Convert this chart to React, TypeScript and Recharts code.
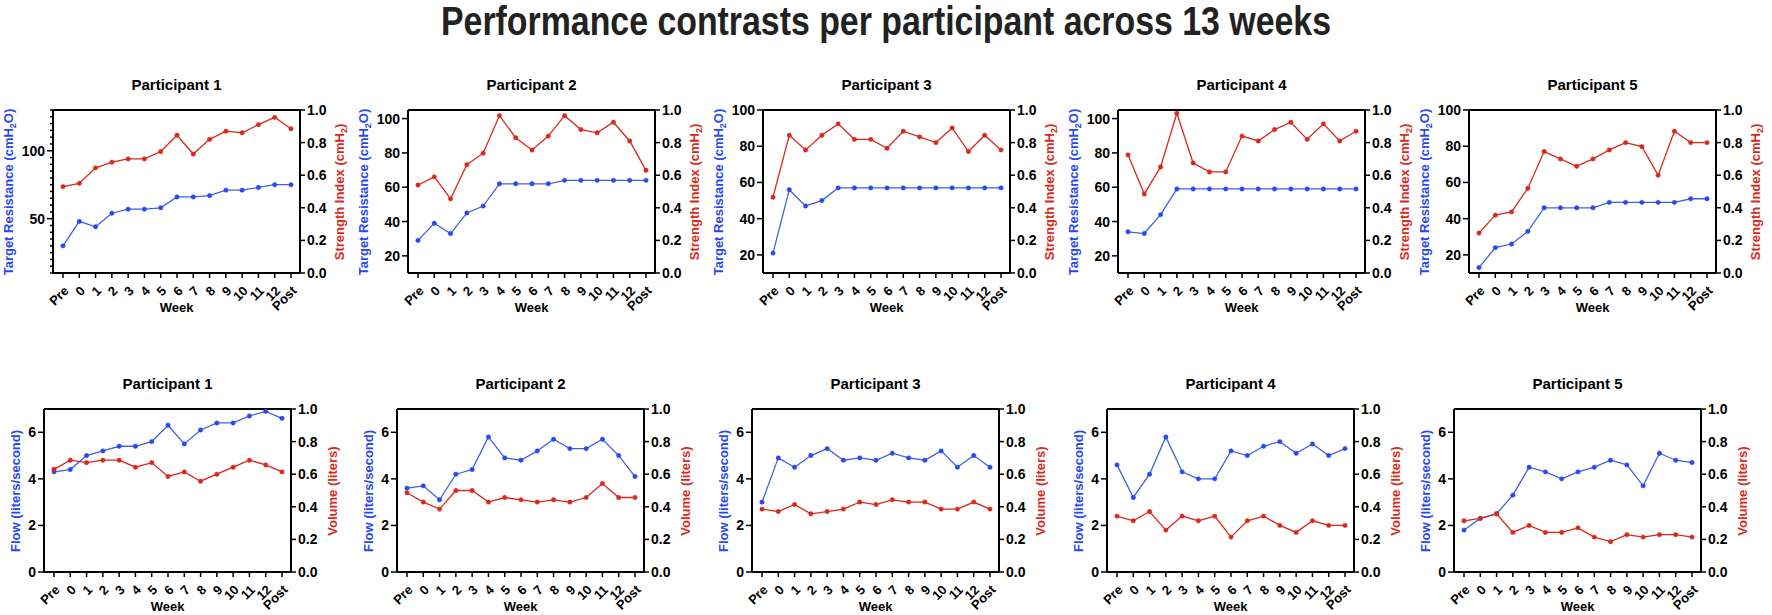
import React from 'react';
import { LineChart, Line, XAxis, YAxis, ReferenceLine } from 'recharts';

const weeks = ['Pre', '0', '1', '2', '3', '4', '5', '6', '7', '8', '9', '10', '11', '12', 'Post'];

// top row: target resistance (cmH2O) and strength index
const p1Resistance = [30, 48, 44, 54, 57, 57, 58, 66, 66, 67, 71, 71, 73, 75, 75];
const p1Strength = [0.53, 0.55, 0.645, 0.68, 0.7, 0.7, 0.745, 0.845, 0.73, 0.82, 0.87, 0.86, 0.91, 0.955, 0.885];
const p2Resistance = [29, 39, 33, 45, 49, 62, 62, 62, 62, 64, 64, 64, 64, 64, 64];
const p2Strength = [0.54, 0.59, 0.455, 0.665, 0.735, 0.965, 0.83, 0.755, 0.84, 0.965, 0.88, 0.86, 0.925, 0.81, 0.63];
const p3Resistance = [21, 56, 47, 50, 57, 57, 57, 57, 57, 57, 57, 57, 57, 57, 57];
const p3Strength = [0.465, 0.845, 0.755, 0.845, 0.915, 0.82, 0.82, 0.765, 0.87, 0.835, 0.8, 0.89, 0.745, 0.845, 0.755];
const p4Resistance = [34, 33, 44, 59, 59, 59, 59, 59, 59, 59, 59, 59, 59, 59, 59];
const p4Strength = [0.725, 0.485, 0.65, 0.98, 0.675, 0.62, 0.62, 0.84, 0.81, 0.88, 0.925, 0.82, 0.915, 0.81, 0.87];
const p5Resistance = [13, 24, 26, 33, 46, 46, 46, 46, 49, 49, 49, 49, 49, 51, 51];
const p5Strength = [0.245, 0.355, 0.375, 0.52, 0.745, 0.7, 0.655, 0.7, 0.755, 0.8, 0.775, 0.6, 0.87, 0.8, 0.8];

// bottom row: flow (l/s) and volume (l)
const p1Flow = [4.3, 4.4, 5.0, 5.2, 5.4, 5.4, 5.6, 6.3, 5.5, 6.1, 6.4, 6.4, 6.7, 6.9, 6.6];
const p1Volume = [0.63, 0.686, 0.671, 0.686, 0.686, 0.643, 0.671, 0.586, 0.614, 0.557, 0.6, 0.643, 0.686, 0.657, 0.614];
const p2Flow = [3.6, 3.7, 3.1, 4.2, 4.4, 5.8, 4.9, 4.8, 5.2, 5.7, 5.3, 5.3, 5.7, 5.0, 4.1];
const p2Volume = [0.486, 0.429, 0.386, 0.5, 0.5, 0.429, 0.457, 0.443, 0.429, 0.443, 0.429, 0.457, 0.543, 0.457, 0.457];
const p3Flow = [3.0, 4.9, 4.5, 5.0, 5.3, 4.8, 4.9, 4.8, 5.1, 4.9, 4.8, 5.2, 4.5, 5.0, 4.5];
const p3Volume = [0.386, 0.371, 0.414, 0.357, 0.371, 0.386, 0.429, 0.414, 0.443, 0.429, 0.429, 0.386, 0.386, 0.429, 0.386];
const p4Flow = [4.6, 3.2, 4.2, 5.8, 4.3, 4.0, 4.0, 5.2, 5.0, 5.4, 5.6, 5.1, 5.5, 5.0, 5.3];
const p4Volume = [0.343, 0.314, 0.371, 0.257, 0.343, 0.314, 0.343, 0.214, 0.314, 0.343, 0.286, 0.243, 0.314, 0.286, 0.286];
const p5Flow = [1.8, 2.3, 2.5, 3.3, 4.5, 4.3, 4.0, 4.3, 4.5, 4.8, 4.6, 3.7, 5.1, 4.8, 4.7];
const p5Volume = [0.314, 0.329, 0.357, 0.243, 0.286, 0.243, 0.243, 0.271, 0.214, 0.186, 0.229, 0.214, 0.229, 0.229, 0.214];

const rightTicks = [0, 0.2, 0.4, 0.6, 0.8, 1.0];
const p1ResTicks = [10, 15, 20, 25, 30, 35, 40, 45, 50, 55, 60, 65, 70, 75, 80, 85, 90, 95, 100, 105, 110, 115, 120, 125, 130];
const p1ResLabels = [50, 100];
const resTicks = [20, 40, 60, 80, 100];
const flowTicks = [0, 2, 4, 6];

const FONT = '"Liberation Sans", Arial, Helvetica, sans-serif';
const BLUE = '#3d63e0';
const BLUE_TEXT = '#2a48f2';
const RED = '#d8291c';
const AXIS_W = 44;
const PLOT_W = 247;
const PLOT_H = 163;
const TICK_FS = 14;

const build = (blue: number[], red: number[]) =>
  weeks.map((w, i) => ({ week: w, blue: blue[i], red: red[i] }));

const LeftTick = ({ y, payload, labels }: any) => {
  const major = labels.includes(payload.value);
  return (
    <g>
      <line x1={AXIS_W} x2={AXIS_W - (major ? 6 : 3)} y1={y} y2={y} stroke="#000" strokeWidth={1.5} />
      {major && (
        <text x={AXIS_W - 8} y={y} dy="0.36em" textAnchor="end" fontSize={TICK_FS} fontWeight="bold" fill="#000" fontFamily={FONT}>
          {payload.value}
        </text>
      )}
    </g>
  );
};

interface PanelProps {
  title: string;
  blue: number[];
  red: number[];
  plotLeft: number;
  plotTop: number;
  leftDomain: [number, number];
  leftTicks: number[];
  leftLabels: number[];
  leftTitle: React.ReactNode;
  rightTitle: React.ReactNode;
  leftTitleOffset: number;
}

const vLabel = (cx: number, cy: number, color: string, content: React.ReactNode) => (
  <div
    style={{
      position: 'absolute',
      left: cx,
      top: cy,
      transform: 'translate(-50%, -50%) rotate(-90deg)',
      color,
      fontSize: 13,
      fontWeight: 'bold',
      fontFamily: FONT,
      whiteSpace: 'nowrap',
      lineHeight: 1,
    }}
  >
    {content}
  </div>
);

const Panel = ({ title, blue, red, plotLeft, plotTop, leftDomain, leftTicks, leftLabels, leftTitle, rightTitle, leftTitleOffset }: PanelProps) => {
  const data = build(blue, red);
  const midX = plotLeft + PLOT_W / 2;
  const midY = plotTop + PLOT_H / 2;
  return (
    <>
      <div
        style={{
          position: 'absolute',
          left: midX,
          top: plotTop - 26,
          transform: 'translate(-50%, -50%)',
          fontSize: 15,
          fontWeight: 'bold',
          fontFamily: FONT,
          whiteSpace: 'nowrap',
          color: '#000',
        }}
      >
        {title}
      </div>
      <div style={{ position: 'absolute', left: plotLeft - AXIS_W, top: plotTop - 10 }}>
        <LineChart width={AXIS_W + PLOT_W + 50} height={10 + PLOT_H + 50} data={data} margin={{ top: 10, right: 0, bottom: 0, left: 0 }}>
          <XAxis
            dataKey="week"
            interval={0}
            padding={{ left: 10, right: 9 }}
            height={50}
            angle={-45}
            textAnchor="end"
            tickSize={5}
            tickMargin={7}
            axisLine={{ stroke: '#000', strokeWidth: 2 }}
            tickLine={{ stroke: '#000', strokeWidth: 1.5 }}
            tick={{ fontSize: 13, fontWeight: 'bold', fill: '#000', fontFamily: FONT }}
          />
          <YAxis
            yAxisId="L"
            domain={leftDomain}
            ticks={leftTicks}
            interval={0}
            allowDataOverflow
            width={AXIS_W}
            tickLine={false}
            axisLine={{ stroke: '#000', strokeWidth: 2 }}
            tick={(props: any) => <LeftTick {...props} labels={leftLabels} />}
          />
          <YAxis
            yAxisId="R"
            orientation="right"
            domain={[0, 1]}
            ticks={rightTicks}
            interval={0}
            width={50}
            tickSize={5}
            tickMargin={2}
            tickFormatter={(v: number) => v.toFixed(1)}
            axisLine={{ stroke: '#000', strokeWidth: 2 }}
            tickLine={{ stroke: '#000', strokeWidth: 1.5 }}
            tick={{ fontSize: TICK_FS, fontWeight: 'bold', fill: '#000', fontFamily: FONT }}
          />
          <ReferenceLine yAxisId="L" y={leftDomain[1]} stroke="#000" strokeWidth={2} />
          <Line
            yAxisId="L"
            dataKey="blue"
            stroke={BLUE}
            strokeWidth={1.3}
            dot={{ r: 2.2, fill: BLUE_TEXT, stroke: BLUE_TEXT, strokeWidth: 0.5 }}
            isAnimationActive={false}
          />
          <Line
            yAxisId="R"
            dataKey="red"
            stroke={RED}
            strokeWidth={1.3}
            dot={{ r: 2.2, fill: RED, stroke: RED, strokeWidth: 0.5 }}
            isAnimationActive={false}
          />
        </LineChart>
      </div>
      {vLabel(plotLeft - leftTitleOffset, midY, BLUE_TEXT, leftTitle)}
      {vLabel(plotLeft + PLOT_W + 41, midY, RED, rightTitle)}
      <div
        style={{
          position: 'absolute',
          left: midX,
          top: plotTop + PLOT_H + 34,
          transform: 'translate(-50%, -50%)',
          fontSize: 13,
          fontWeight: 'bold',
          fontFamily: FONT,
          color: '#000',
        }}
      >
        Week
      </div>
    </>
  );
};

const topLefts = [53, 408, 763, 1118, 1469];
const bottomLefts = [44, 397, 752, 1107, 1454];

const resistanceTitle = (
  <span>
    Target Resistance (cmH<sub style={{ fontSize: 9 }}>2</sub>O)
  </span>
);
const strengthTitle = (
  <span>
    Strength Index (cmH<sub style={{ fontSize: 9 }}>2</sub>)
  </span>
);

const topRow = [
  { res: p1Resistance, str: p1Strength, domain: [10, 130] as [number, number], ticks: p1ResTicks, labels: p1ResLabels },
  { res: p2Resistance, str: p2Strength, domain: [10, 105] as [number, number], ticks: resTicks, labels: resTicks },
  { res: p3Resistance, str: p3Strength, domain: [10, 100] as [number, number], ticks: resTicks, labels: resTicks },
  { res: p4Resistance, str: p4Strength, domain: [10, 105] as [number, number], ticks: resTicks, labels: resTicks },
  { res: p5Resistance, str: p5Strength, domain: [10, 100] as [number, number], ticks: resTicks, labels: resTicks },
];

const bottomRow = [
  { flow: p1Flow, vol: p1Volume },
  { flow: p2Flow, vol: p2Volume },
  { flow: p3Flow, vol: p3Volume },
  { flow: p4Flow, vol: p4Volume },
  { flow: p5Flow, vol: p5Volume },
];

export default function App() {
  return (
    <div
      style={{
        position: 'absolute',
        left: 0,
        top: 0,
        width: 1772,
        height: 615,
        overflow: 'hidden',
        background: '#fff',
        fontFamily: FONT,
      }}
    >
      <svg width={1772} height={48} style={{ position: 'absolute', left: 0, top: 0 }}>
        <text
          x={886}
          y={35}
          textAnchor="middle"
          fontSize={40}
          fontWeight="bold"
          fill="#222"
          fontFamily={FONT}
          textLength={890}
          lengthAdjust="spacingAndGlyphs"
        >
          Performance contrasts per participant across 13 weeks
        </text>
      </svg>
      {topRow.map((p, i) => (
        <Panel
          key={`t${i}`}
          title={`Participant ${i + 1}`}
          blue={p.res}
          red={p.str}
          plotLeft={topLefts[i]}
          plotTop={110}
          leftDomain={p.domain}
          leftTicks={p.ticks}
          leftLabels={p.labels}
          leftTitle={resistanceTitle}
          rightTitle={strengthTitle}
          leftTitleOffset={43}
        />
      ))}
      {bottomRow.map((p, i) => (
        <Panel
          key={`b${i}`}
          title={`Participant ${i + 1}`}
          blue={p.flow}
          red={p.vol}
          plotLeft={bottomLefts[i]}
          plotTop={409}
          leftDomain={[0, 7]}
          leftTicks={flowTicks}
          leftLabels={flowTicks}
          leftTitle="Flow (liters/second)"
          rightTitle="Volume (liters)"
          leftTitleOffset={29}
        />
      ))}
    </div>
  );
}
